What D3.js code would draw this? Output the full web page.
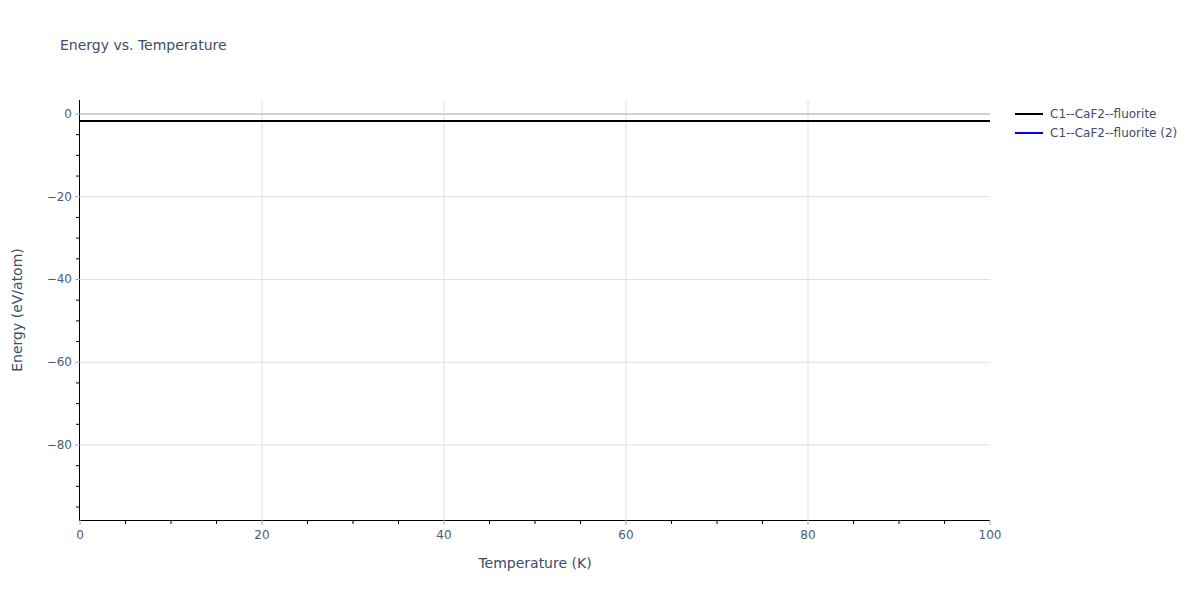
<!DOCTYPE html>
<html>
<head>
<meta charset="utf-8">
<script src="https://cdn.jsdelivr.net/npm/d3@7"></script>
<style>
  body { margin: 0; background: #fff; }
  svg { font-family: "DejaVu Sans", verdana, arial, sans-serif; }
</style>
</head>
<body>
<svg id="chart" width="1200" height="600"></svg>
<script>
const temperatures = [0, 10, 20, 30, 40, 50, 60, 70, 80, 90, 100];
const energySeries1 = [-1.69, -1.69, -1.69, -1.69, -1.69, -1.69, -1.69, -1.69, -1.69, -1.69, -1.69];
const energySeries2 = [-1.69, -1.69, -1.69, -1.69, -1.69, -1.69, -1.69, -1.69, -1.69, -1.69, -1.69];
const seriesNames = ["C1--CaF2--fluorite", "C1--CaF2--fluorite (2)"];
const seriesColors = ["#000000", "#0000ff"];
const xTicks = [0, 20, 40, 60, 80, 100];
const yTicks = [0, -20, -40, -60, -80];
const xMinorTicks = d3.range(0, 101, 5);
const yMinorTicks = d3.range(0, -99, -5);

const svg = d3.select("#chart");
const margin = {left: 80, right: 210, top: 100, bottom: 80};
const W = 1200, H = 600;
const x = d3.scaleLinear().domain([0, 100]).range([margin.left, W - margin.right]);
const y = d3.scaleLinear().domain([-98.13, 3.38]).range([H - margin.bottom, margin.top]);
const textColor = "#3d4d68";
const tickColor = "#4b5b78";

// gridlines
svg.append("g").selectAll("line").data(xTicks.filter(t => t > 0 && t < 100)).join("line")
  .attr("x1", d => x(d)).attr("x2", d => x(d))
  .attr("y1", margin.top).attr("y2", H - margin.bottom)
  .attr("stroke", "#e0e0e0").attr("stroke-width", 1);
svg.append("g").selectAll("line").data(yTicks.filter(t => t !== 0)).join("line")
  .attr("x1", margin.left).attr("x2", W - margin.right)
  .attr("y1", d => y(d)).attr("y2", d => y(d))
  .attr("stroke", "#e0e0e0").attr("stroke-width", 1);
// zero line
svg.append("line")
  .attr("x1", margin.left).attr("x2", W - margin.right)
  .attr("y1", y(0)).attr("y2", y(0))
  .attr("stroke", "#cfcfcf").attr("stroke-width", 2);

// series (second drawn underneath the first)
const series = [energySeries2, energySeries1];
const colors = [seriesColors[1], seriesColors[0]];
const lineGen = d3.line().x((d, i) => x(temperatures[i])).y(d => y(d));
series.forEach((s, k) => {
  svg.append("path").datum(s)
    .attr("d", lineGen)
    .attr("fill", "none")
    .attr("stroke", colors[k])
    .attr("stroke-width", 2);
});

// axes lines
svg.append("line").attr("x1", margin.left - 0.5).attr("x2", margin.left - 0.5)
  .attr("y1", margin.top).attr("y2", H - margin.bottom + 1)
  .attr("stroke", "#000").attr("stroke-width", 1);
svg.append("line").attr("x1", margin.left - 1).attr("x2", W - margin.right)
  .attr("y1", H - margin.bottom + 0.5).attr("y2", H - margin.bottom + 0.5)
  .attr("stroke", "#000").attr("stroke-width", 1);

// minor ticks
svg.append("g").selectAll("line").data(xMinorTicks.filter(t => t % 20 !== 0)).join("line")
  .attr("x1", d => x(d)).attr("x2", d => x(d))
  .attr("y1", H - margin.bottom).attr("y2", H - margin.bottom + 4)
  .attr("stroke", "#000").attr("stroke-width", 1);
svg.append("g").selectAll("line").data(yMinorTicks.filter(t => t % 20 !== 0)).join("line")
  .attr("x1", margin.left - 4).attr("x2", margin.left)
  .attr("y1", d => y(d)).attr("y2", d => y(d))
  .attr("stroke", "#000").attr("stroke-width", 1);

// major ticks + labels
const fmt = d => d < 0 ? "\u2212" + Math.abs(d) : String(d);
svg.append("g").selectAll("line").data(xTicks).join("line")
  .attr("x1", d => x(d)).attr("x2", d => x(d))
  .attr("y1", H - margin.bottom).attr("y2", H - margin.bottom + 5)
  .attr("stroke", "#aaaaaa").attr("stroke-width", 1);
svg.append("g").selectAll("text").data(xTicks).join("text")
  .attr("x", d => x(d)).attr("y", H - margin.bottom + 19)
  .attr("text-anchor", "middle").attr("font-size", 12).attr("fill", tickColor)
  .text(fmt);
svg.append("g").selectAll("line").data(yTicks).join("line")
  .attr("x1", margin.left - 5).attr("x2", margin.left)
  .attr("y1", d => y(d)).attr("y2", d => y(d))
  .attr("stroke", "#aaaaaa").attr("stroke-width", 1);
svg.append("g").selectAll("text").data(yTicks).join("text")
  .attr("x", margin.left - 8).attr("y", d => y(d) + 4)
  .attr("text-anchor", "end").attr("font-size", 12).attr("fill", tickColor)
  .text(fmt);

// titles
svg.append("text").attr("x", 60).attr("y", 50)
  .attr("font-size", 14).attr("fill", textColor).text("Energy vs. Temperature");
svg.append("text").attr("x", (margin.left + W - margin.right) / 2).attr("y", H - margin.bottom + 48)
  .attr("text-anchor", "middle").attr("font-size", 14).attr("fill", textColor)
  .text("Temperature (K)");
svg.append("text")
  .attr("transform", `translate(22, ${(margin.top + H - margin.bottom) / 2}) rotate(-90)`)
  .attr("text-anchor", "middle").attr("font-size", 14).attr("fill", textColor)
  .text("Energy (eV/atom)");

// legend
const leg = svg.append("g").selectAll("g").data(seriesNames).join("g")
  .attr("transform", (d, i) => `translate(1015, ${114 + i * 19})`);
leg.append("line").attr("x1", 0).attr("x2", 28).attr("y1", 0).attr("y2", 0)
  .attr("stroke", (d, i) => seriesColors[i]).attr("stroke-width", 2);
leg.append("text").attr("x", 35).attr("y", 4)
  .attr("font-size", 12).attr("fill", textColor).text(d => d);
</script>
</body>
</html>
